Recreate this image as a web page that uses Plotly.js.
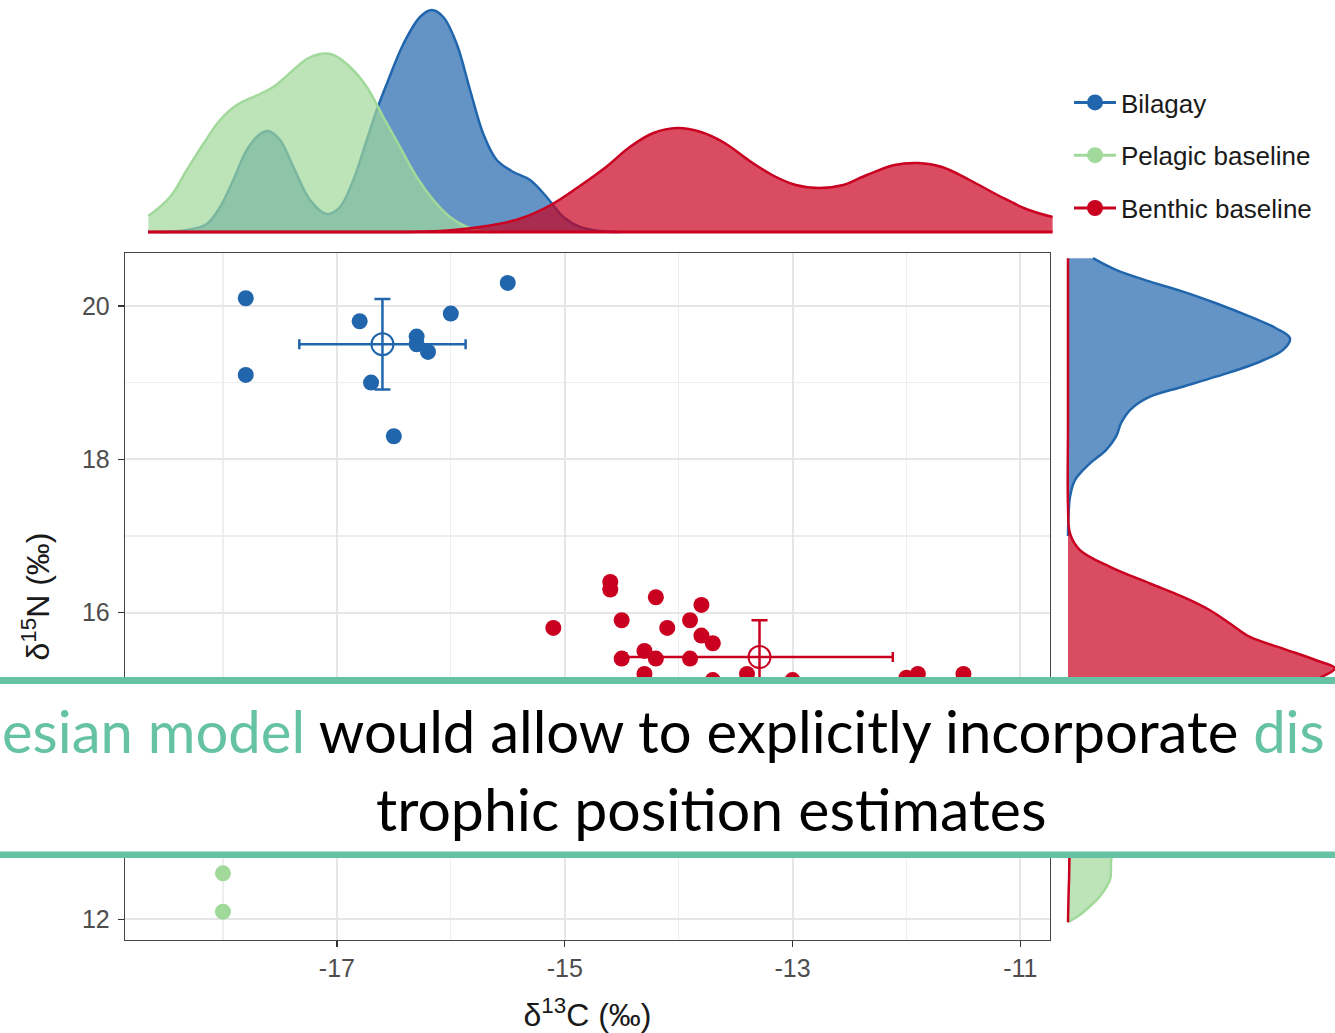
<!DOCTYPE html>
<html>
<head>
<meta charset="utf-8">
<script src="https://cdn.plot.ly/plotly-3.0.1.min.js"></script>
<style>html,body{margin:0;padding:0;background:#fff;}#chart{width:1335px;height:1033px;}</style>
</head>
<body>
<div id="chart"></div>
<script>
// ---- Data ----
const seriesNames = ['Bilagay', 'Pelagic baseline', 'Benthic baseline'];

const bilagayX = [-17.8, -17.8, -16.8, -16.3, -16.3, -16.2, -16.0, -16.7, -16.5, -15.5];
const bilagayY = [20.1, 19.1, 19.8, 19.6, 19.5, 19.4, 19.9, 19.0, 18.3, 20.3];
const pelagicX = [-18.0, -18.0];
const pelagicY = [12.6, 12.1];
const benthicX = [-14.6, -14.6, -14.2, -13.8, -15.1, -14.5, -14.1, -13.9, -13.8, -13.7, -14.3,
                  -14.5, -14.2, -13.9, -14.3, -13.4, -11.9, -11.5, -12.0, -13.7, -13.0];
const benthicY = [16.4, 16.3, 16.2, 16.1, 15.8, 15.9, 15.8, 15.9, 15.7, 15.6, 15.5,
                  15.4, 15.4, 15.4, 15.2, 15.2, 15.2, 15.2, 15.15, 15.12, 15.12];

// group means and their error bars (sd)
const meanX = [-16.6, -13.29];
const meanY = [19.5, 15.42];
const sdX = [0.73, 1.17];
const sdY = [0.59, 0.48];

// marginal density of d13C (top panel)
const dCBilagayX = [-18.55, -18.318, -18.143, -18.026, -17.910, -17.792, -17.675, -17.603, -17.5, -17.383, -17.237,
  -17.090, -16.974, -16.857, -16.739, -16.652, -16.564, -16.418, -16.272, -16.169, -16.068, -15.950, -15.833,
  -15.717, -15.599, -15.453, -15.307, -15.161, -15.015, -14.868, -14.693, -14.52];
const dCBilagay = [0.0, 0.02, 0.08, 0.25, 0.52, 0.82, 0.98, 1.01, 0.92, 0.65, 0.32,
  0.18, 0.25, 0.52, 0.92, 1.22, 1.48, 1.88, 2.15, 2.22, 2.15, 1.88, 1.42,
  0.98, 0.72, 0.60, 0.52, 0.35, 0.15, 0.05, 0.01, 0.0];
const dCPelagicX = [-18.655, -18.465, -18.318, -18.173, -18.026, -17.880, -17.675, -17.559, -17.383, -17.266, -17.149,
  -17.032, -16.886, -16.739, -16.594, -16.447, -16.301, -16.155, -16.009, -15.862, -15.746, -15.57];
const dCPelagic = [0.16, 0.35, 0.62, 0.88, 1.12, 1.27, 1.38, 1.45, 1.62, 1.73, 1.78,
  1.77, 1.65, 1.45, 1.15, 0.85, 0.55, 0.32, 0.15, 0.05, 0.01, 0.0];
const dCBenthicX = [-18.658, -17.5, -16.45, -16.096, -15.750, -15.404, -15.125, -14.883, -14.640, -14.432, -14.225,
  -14.016, -13.808, -13.600, -13.392, -13.184, -12.976, -12.768, -12.560, -12.352, -12.110, -11.901,
  -11.693, -11.451, -11.173, -10.931, -10.723];
const dCBenthic = [0.0, 0.0, 0.0, 0.01, 0.05, 0.13, 0.27, 0.45, 0.65, 0.85, 0.99,
  1.04, 1.00, 0.89, 0.72, 0.57, 0.47, 0.44, 0.47, 0.57, 0.67, 0.69,
  0.65, 0.52, 0.35, 0.22, 0.15];

// marginal density of d15N (right panel)
const dNBilagayY = [20.623, 20.47, 20.317, 20.187, 20.035, 19.860, 19.709, 19.578, 19.426, 19.252, 19.077,
  18.946, 18.816, 18.642, 18.469, 18.294, 18.120, 17.947, 17.728, 17.510, 17.249, 17.0];
const dNBilagay = [0.25, 0.48, 0.82, 1.15, 1.48, 1.82, 2.08, 2.22, 2.15, 1.88, 1.48,
  1.15, 0.82, 0.62, 0.53, 0.48, 0.38, 0.22, 0.07, 0.02, 0.005, 0.0];
const dNPelagicY = [13.0, 12.87, 12.74, 12.52, 12.30, 12.17, 12.06, 11.962];
const dNPelagic = [0.45, 0.44, 0.43, 0.42, 0.32, 0.22, 0.12, 0.0];
const dNBenthicY = [20.623, 18.5, 17.4, 17.033, 16.815, 16.597, 16.380, 16.205, 16.031, 15.858, 15.683,
  15.531, 15.379, 15.274, 15.17, 14.9, 14.5, 14.0, 13.5, 13.0, 12.5, 11.962];
const dNBenthic = [0.0, 0.0, 0.0, 0.02, 0.12, 0.42, 0.82, 1.15, 1.42, 1.62, 1.82,
  2.15, 2.48, 2.67, 2.55, 2.0, 1.2, 0.5, 0.15, 0.03, 0.01, 0.0];

const xTickVals = [-17, -15, -13, -11];
const xTickText = ['-17', '-15', '-13', '-11'];
const xMinorVals = [-18, -16, -14, -12];
const yTickVals = [12, 16, 18, 20];          // the 14 tick sits under the banner
const yTickText = ['12', '16', '18', '20'];
const yMinorVals = [13, 14, 15, 17, 19];

const bannerLine1 = '<span style="color:#66C2A5">esian model</span> would allow to explicitly incorporate <span style="color:#66C2A5">dis</span>';
const bannerLine2 = 'trophic position estimates';

// ---- Styling ----
const colBlue = '#2166AC', colGreen = '#A1D99B', colRed = '#CA0020';
const fillBlue = 'rgba(33,102,172,0.7)', fillGreen = 'rgba(161,217,155,0.7)', fillRed = 'rgba(202,0,32,0.7)';
const teal = '#66C2A5';
const W = 1335, H = 1033;
const px = v => v / W;
const py = v => 1 - v / H;

const traces = [];
// top marginal densities
traces.push({x: dCBilagayX, y: dCBilagay, xaxis: 'x2', yaxis: 'y2', type: 'scatter', mode: 'lines',
  line: {color: colBlue, width: 2.5, shape: 'spline', smoothing: 1}, fill: 'tozeroy', fillcolor: fillBlue,
  showlegend: false, hoverinfo: 'skip'});
traces.push({x: dCPelagicX, y: dCPelagic, xaxis: 'x2', yaxis: 'y2', type: 'scatter', mode: 'lines',
  line: {color: colGreen, width: 2.5, shape: 'spline', smoothing: 1}, fill: 'tozeroy', fillcolor: fillGreen,
  showlegend: false, hoverinfo: 'skip'});
traces.push({x: dCBenthicX, y: dCBenthic, xaxis: 'x2', yaxis: 'y2', type: 'scatter', mode: 'lines',
  line: {color: colRed, width: 2.5, shape: 'spline', smoothing: 1}, fill: 'tozeroy', fillcolor: fillRed,
  showlegend: false, hoverinfo: 'skip'});
// outline of the benthic density along its baseline
traces.push({x: [dCBenthicX[0], dCBenthicX[dCBenthicX.length - 1]], y: [0, 0], xaxis: 'x2', yaxis: 'y2',
  type: 'scatter', mode: 'lines', line: {color: colRed, width: 3}, showlegend: false, hoverinfo: 'skip'});
// right marginal densities
traces.push({x: dNBilagay, y: dNBilagayY, xaxis: 'x3', yaxis: 'y3', type: 'scatter', mode: 'lines',
  line: {color: colBlue, width: 2.5, shape: 'spline', smoothing: 1}, fill: 'tozerox', fillcolor: fillBlue,
  showlegend: false, hoverinfo: 'skip'});
traces.push({x: dNPelagic, y: dNPelagicY, xaxis: 'x3', yaxis: 'y3', type: 'scatter', mode: 'lines',
  line: {color: colGreen, width: 2.5, shape: 'spline', smoothing: 1}, fill: 'tozerox', fillcolor: fillGreen,
  showlegend: false, hoverinfo: 'skip'});
traces.push({x: dNBenthic, y: dNBenthicY, xaxis: 'x3', yaxis: 'y3', type: 'scatter', mode: 'lines',
  line: {color: colRed, width: 2.5, shape: 'spline', smoothing: 1}, fill: 'tozerox', fillcolor: fillRed,
  showlegend: false, hoverinfo: 'skip'});
// main scatter
traces.push({x: bilagayX, y: bilagayY, type: 'scatter', mode: 'markers', marker: {color: colBlue, size: 16},
  showlegend: false});
traces.push({x: pelagicX, y: pelagicY, type: 'scatter', mode: 'markers', marker: {color: colGreen, size: 16},
  showlegend: false});
traces.push({x: benthicX, y: benthicY, type: 'scatter', mode: 'markers', marker: {color: colRed, size: 16},
  showlegend: false});
// group means with error bars
const meanCols = [colBlue, colRed];
for (let i = 0; i < meanX.length; i++) {
  traces.push({x: [meanX[i]], y: [meanY[i]], type: 'scatter', mode: 'markers',
    marker: {symbol: 'circle-open', size: 22, color: meanCols[i], line: {width: 2}},
    error_x: {type: 'data', array: [sdX[i]], color: meanCols[i], thickness: 2.5, width: 5},
    error_y: {type: 'data', array: [sdY[i]], color: meanCols[i], thickness: 2.5, width: 8},
    showlegend: false});
}
// legend entries
const legCols = [colBlue, colGreen, colRed];
for (let i = 0; i < seriesNames.length; i++) {
  traces.push({x: [null], y: [null], type: 'scatter', mode: 'lines+markers', name: seriesNames[i],
    legendgroup: 'g' + i, line: {color: legCols[i], width: 3}, marker: {color: legCols[i], size: 16}});
}

const gridMajor = '#E6E6E6', gridMinor = '#EEEEEE';
const tickFont = {family: 'Liberation Sans, Arial, sans-serif', size: 25, color: '#4D4D4D'};

const layout = {
  width: W, height: H,
  margin: {l: 0, r: 0, t: 0, b: 0},
  paper_bgcolor: '#ffffff', plot_bgcolor: 'rgba(0,0,0,0)',
  font: {family: 'Liberation Sans, Arial, sans-serif'},
  xaxis: {domain: [px(125), px(1050)], range: [-18.86, -10.74], anchor: 'y',
    tickmode: 'array', tickvals: xTickVals, ticktext: xTickText, tickfont: tickFont,
    ticks: 'outside', ticklen: 6, tickwidth: 1.3, tickcolor: '#333333', ticklabelstandoff: 0,
    showgrid: true, gridcolor: gridMajor, gridwidth: 2, zeroline: false,
    minor: {tickmode: 'array', tickvals: xMinorVals, showgrid: true, gridcolor: gridMinor, gridwidth: 1.2, ticks: ''},
    showline: true, mirror: true, linecolor: '#444444', linewidth: 1.3,
    title: {text: 'δ<sup>13</sup>C (‰)', font: {size: 32, color: '#1A1A1A'}, standoff: 24}},
  yaxis: {domain: [py(940), py(253)], range: [11.73, 20.69], anchor: 'x',
    tickmode: 'array', tickvals: yTickVals, ticktext: yTickText, tickfont: tickFont,
    ticks: 'outside', ticklen: 6, tickwidth: 1.3, tickcolor: '#333333', ticklabelstandoff: 3,
    showgrid: true, gridcolor: gridMajor, gridwidth: 2, zeroline: false,
    minor: {tickmode: 'array', tickvals: yMinorVals, showgrid: true, gridcolor: gridMinor, gridwidth: 1.2, ticks: ''},
    showline: true, mirror: true, linecolor: '#444444', linewidth: 1.3,
    title: {text: 'δ<sup>15</sup>N (‰)', font: {size: 32, color: '#1A1A1A'}, standoff: 22}},
  xaxis2: {domain: [px(125), px(1055)], range: [-18.86, -10.702], anchor: 'y2', visible: false},
  yaxis2: {domain: [py(234), 1], range: [-0.02, 2.32], anchor: 'x2', visible: false},
  xaxis3: {domain: [px(1066), 1], range: [-0.02, 2.67], anchor: 'y3', visible: false},
  yaxis3: {domain: [py(940), py(253)], range: [11.73, 20.69], anchor: 'x3', visible: false},
  showlegend: true,
  legend: {x: px(1069), y: py(79), xanchor: 'left', yanchor: 'top', bgcolor: 'rgba(0,0,0,0)',
    font: {size: 26, color: '#1A1A1A', family: 'Liberation Sans, Arial, sans-serif'},
    tracegroupgap: 16, itemwidth: 42},
  shapes: [
    {type: 'rect', xref: 'paper', yref: 'paper', x0: 0, x1: 1, y0: py(858), y1: py(677),
      fillcolor: '#ffffff', line: {width: 0}, layer: 'above'},
    {type: 'rect', xref: 'paper', yref: 'paper', x0: 0, x1: 1, y0: py(684), y1: py(677),
      fillcolor: teal, line: {width: 0}, layer: 'above'},
    {type: 'rect', xref: 'paper', yref: 'paper', x0: 0, x1: 1, y0: py(858), y1: py(851.5),
      fillcolor: teal, line: {width: 0}, layer: 'above'}
  ],
  annotations: [
    {text: bannerLine1, xref: 'paper', yref: 'paper', x: px(0), y: py(730), xanchor: 'left', yanchor: 'middle',
      showarrow: false, font: {family: 'Lato, Open Sans, sans-serif', size: 58, color: '#000000'}},
    {text: bannerLine2, xref: 'paper', yref: 'paper', x: px(711), y: py(808), xanchor: 'center', yanchor: 'middle',
      showarrow: false, font: {family: 'Lato, Open Sans, sans-serif', size: 59, color: '#000000'}}
  ]
};

Plotly.newPlot('chart', traces, layout, {staticPlot: true, displayModeBar: false});
</script>
</body>
</html>
